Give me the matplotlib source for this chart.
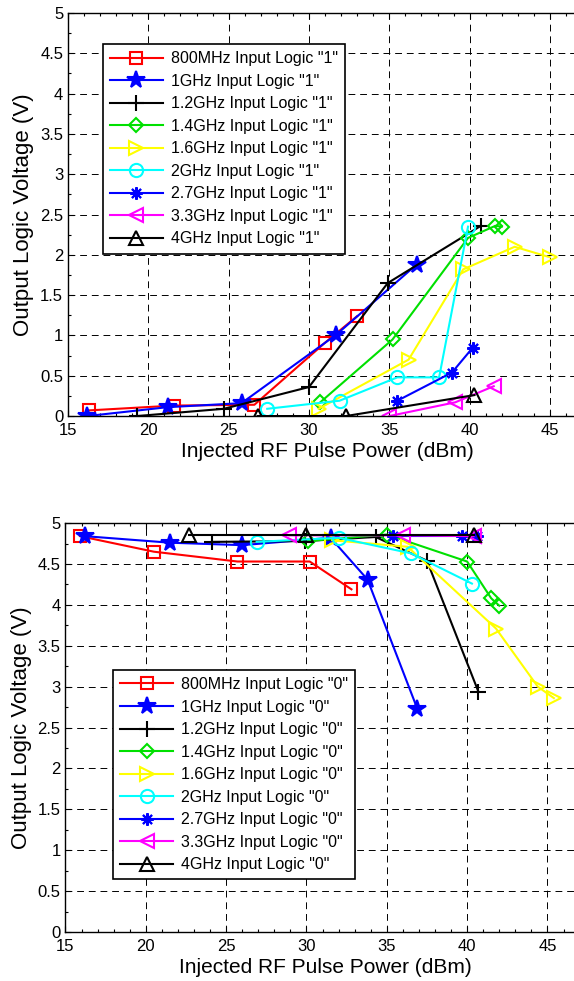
import numpy as np
import matplotlib
matplotlib.use("Agg")
import matplotlib.pyplot as plt
from matplotlib.ticker import MultipleLocator

plt.rcParams['font.family'] = ['Liberation Sans', 'DejaVu Sans']

freqs = ["800MHz", "1GHz", "1.2GHz", "1.4GHz", "1.6GHz", "2GHz", "2.7GHz", "3.3GHz", "4GHz"]

# logic "1" input (top panel)
x1_800 = [16.3, 21.6, 26.6, 31.0, 33.0]
y1_800 = [0.07, 0.13, 0.14, 0.91, 1.24]
x1_1g = [16.2, 21.2, 25.8, 31.7, 36.7]
y1_1g = [0.0, 0.11, 0.16, 1.01, 1.88]
x1_12 = [19.3, 24.7, 30.0, 34.9, 40.7]
y1_12 = [0.0, 0.09, 0.36, 1.65, 2.36]
x1_14 = [30.7, 35.2, 39.9, 41.6, 42.0]
y1_14 = [0.17, 0.95, 2.21, 2.36, 2.35]
x1_16 = [30.6, 36.2, 39.6, 42.8, 45.0]
y1_16 = [0.09, 0.70, 1.82, 2.10, 1.97]
x1_2g = [27.4, 31.9, 35.5, 38.1, 39.9]
y1_2g = [0.09, 0.19, 0.48, 0.48, 2.35]
x1_27 = [35.5, 38.9, 40.2]
y1_27 = [0.19, 0.54, 0.85]
x1_33 = [35.0, 39.1, 41.5]
y1_33 = [0.0, 0.17, 0.37]
x1_4g = [26.8, 32.3, 40.3]
y1_4g = [0.0, 0.0, 0.26]

# logic "0" input (bottom panel)
x0_800 = [15.9, 20.5, 25.7, 30.2, 32.8]
y0_800 = [4.84, 4.65, 4.53, 4.53, 4.19]
x0_1g = [16.2, 21.5, 26.0, 31.5, 33.8, 36.9]
y0_1g = [4.84, 4.76, 4.73, 4.82, 4.31, 2.73]
x0_12 = [24.1, 29.9, 34.3, 37.5, 40.7]
y0_12 = [4.77, 4.78, 4.83, 4.54, 2.94]
x0_14 = [30.1, 35.0, 40.0, 41.5, 42.0]
y0_14 = [4.78, 4.86, 4.53, 4.08, 3.99]
x0_16 = [31.6, 36.3, 41.8, 44.4, 45.4]
y0_16 = [4.79, 4.71, 3.71, 3.00, 2.86]
x0_2g = [26.9, 32.0, 36.5, 40.3]
y0_2g = [4.77, 4.82, 4.63, 4.26]
x0_27 = [35.4, 39.7, 40.6]
y0_27 = [4.84, 4.84, 4.84]
x0_33 = [28.9, 36.0, 40.4]
y0_33 = [4.85, 4.85, 4.84]
x0_4g = [22.7, 30.0, 40.4]
y0_4g = [4.86, 4.86, 4.86]

colors = ['#ff0000', '#0000ff', '#000000', '#00e000', '#ffff00', '#00ffff', '#0000ff', '#ff00ff', '#000000']
markers = ['s', '*', '+', 'D', '>', 'o', (8, 2, 0), '<', '^']
msizes = [8.5, 13, 11, 7.5, 10, 9.5, 9, 10.5, 10.5]

top_data = [(x1_800, y1_800), (x1_1g, y1_1g), (x1_12, y1_12), (x1_14, y1_14), (x1_16, y1_16),
            (x1_2g, y1_2g), (x1_27, y1_27), (x1_33, y1_33), (x1_4g, y1_4g)]
bot_data = [(x0_800, y0_800), (x0_1g, y0_1g), (x0_12, y0_12), (x0_14, y0_14), (x0_16, y0_16),
            (x0_2g, y0_2g), (x0_27, y0_27), (x0_33, y0_33), (x0_4g, y0_4g)]

fig = plt.figure(figsize=(5.74, 9.81), dpi=100)
# right part of both axes runs past the figure edge, as in the reference
ax1 = fig.add_axes([0.1185, 0.5759, 0.904, 0.4108])
ax2 = fig.add_axes([0.1141, 0.0499, 0.904, 0.4169])


def draw(ax, data, logic, anchor):
    for i, (xs, ys) in enumerate(data):
        c = colors[i]
        filled = markers[i] == '*'
        ax.plot(xs, ys, color=c, lw=1.5, marker=markers[i], ms=msizes[i],
                mfc=c if filled else 'none', mec=c, mew=1.5,
                label=freqs[i] + ' Input Logic "' + logic + '"')
    ax.set_xlim(15, 47.3)
    ax.set_ylim(0, 5)
    ax.xaxis.set_major_locator(MultipleLocator(5))
    ax.xaxis.set_minor_locator(MultipleLocator(1))
    ax.yaxis.set_major_locator(MultipleLocator(0.5))
    ax.yaxis.set_minor_locator(MultipleLocator(0.25))
    ax.yaxis.set_major_formatter(plt.FuncFormatter(lambda v, p: ('%g' % v)))
    ax.tick_params(which='both', direction='in', top=True, right=True, labelsize=12, width=0.8)
    ax.tick_params(which='major', length=4)
    ax.tick_params(which='minor', length=2.5)
    ax.tick_params(axis='x', pad=5)
    ax.grid(True, which='major', color='black', lw=0.7, linestyle=(0, (7, 5)))
    for s in ax.spines.values():
        s.set_linewidth(1.0)
    ax.set_xlabel('Injected RF Pulse Power (dBm)', fontsize=15, labelpad=3)
    ax.set_ylabel('Output Logic Voltage (V)', fontsize=16, labelpad=4)
    leg = ax.legend(loc='upper left', bbox_to_anchor=anchor, borderaxespad=0,
                    fontsize=11.5, fancybox=False, framealpha=1, edgecolor='black',
                    handlelength=3.3, labelspacing=0.47, borderpad=0.45, handletextpad=0.5)
    leg.get_frame().set_linewidth(1.2)


draw(ax1, top_data, '1', (0.067, 0.923))
draw(ax2, bot_data, '0', (0.0915, 0.641))

fig.savefig('out.png', dpi=100)
